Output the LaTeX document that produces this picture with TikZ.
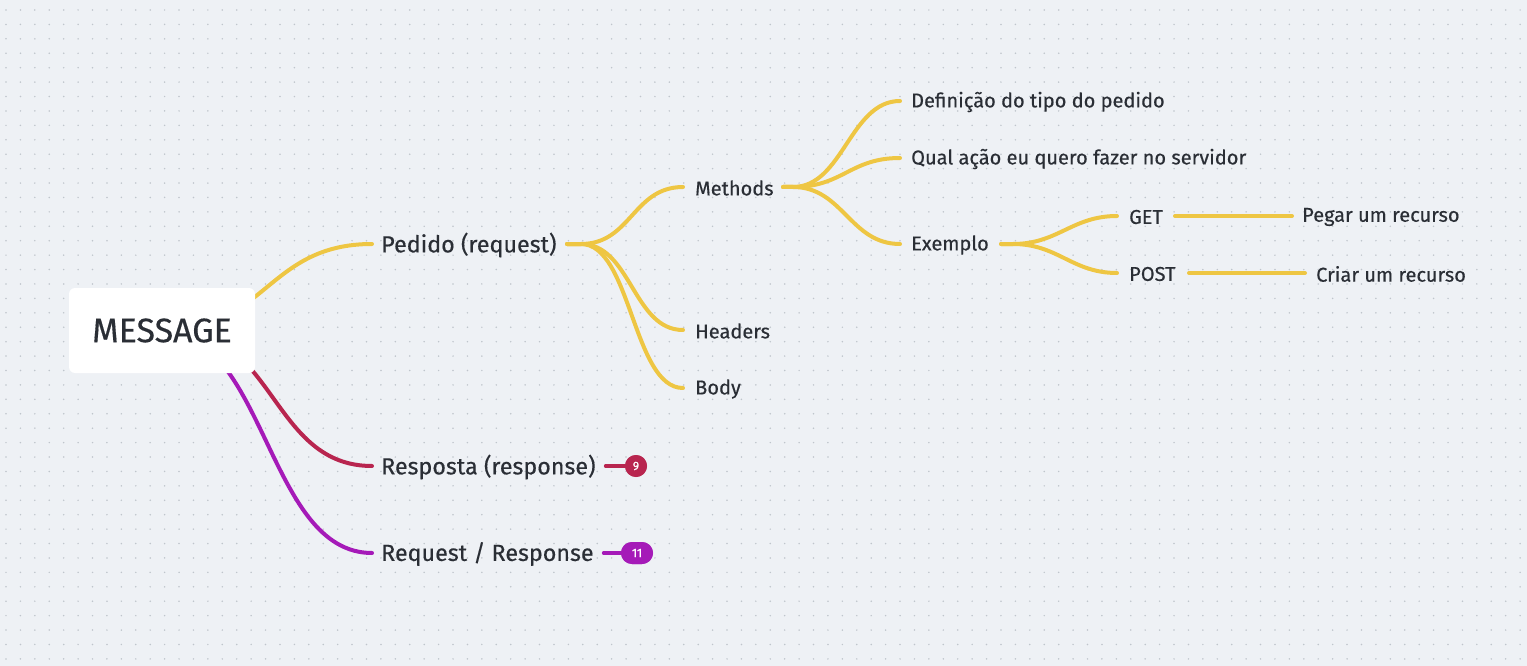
\documentclass[tikz,border=0pt]{standalone}
\usepackage{fontspec}
\setmainfont{Fira Sans}[BoldFont={Fira Sans},BoldFeatures={FakeBold=0.4}]
\usetikzlibrary{calc}
\definecolor{bg}{HTML}{EEF1F5}
\definecolor{dotc}{HTML}{BFC5CC}
\definecolor{ink}{HTML}{2A2E35}
\definecolor{yel}{HTML}{EEC643}
\definecolor{rd}{HTML}{B8254F}
\definecolor{pu}{HTML}{A51AB8}
\tikzset{
  lbl/.style={anchor=west,inner sep=0pt,text=ink,font=\fontsize{20}{22}\selectfont\bfseries},
  lbltop/.style={anchor=west,inner sep=0pt,text=ink,font=\fontsize{23.3}{26}\selectfont\bfseries},
  conn/.style={line width=4pt,line cap=round},
  badge/.style={text=white,font=\fontsize{12}{14}\selectfont\bfseries,inner sep=0pt,rounded corners=11pt,minimum height=22pt}
}
\begin{document}
\begin{tikzpicture}[x=1pt,y=-1pt]
\fill[bg] (0,0) rectangle (1527,666);
\useasboundingbox (0,0) rectangle (1527,666);
% dot grid
\foreach \i in {0,...,105} {
  \foreach \j in {0,...,45} {
    \fill[dotc] (6+\i*14.42,10+\j*14.42) circle (0.85);
  }
}
% nodes
\coordinate (mc) at (161,331);
\coordinate (mcr) at (175,331);
\node[lbltop] (ped) at (381,245) {Pedido (request)};
\node[lbltop] (resp) at (381,467) {Resposta (response)};
\node[lbltop] (rr) at (381,554) {Request / Response};
\node[lbl] (meth) at (695,188) {Methods};
\node[lbl] (head) at (695,331) {Headers};
\node[lbl] (body) at (695,389) {Body};
\node[lbl] (def) at (911,102) {Definição do tipo do pedido};
\node[lbl] (qual) at (911,159) {Qual ação eu quero fazer no servidor};
\node[lbl] (ex) at (911,245) {Exemplo};
\node[lbl] (get) at (1129,217) {GET};
\node[lbl] (post) at (1129,274) {POST};
\node[lbl] (peg) at (1302,217) {Pegar um recurso};
\node[lbl] (cri) at (1316,274) {Criar um recurso};
\node[badge,fill=rd,minimum width=22pt] (b9) at (636,466) {9};
\node[badge,fill=pu,minimum width=32pt] (b11) at (637,553) {11};
% connectors from MESSAGE
\draw[conn,yel] (mc) .. controls +(105,0) and +(-105,0) .. (372,244);
\draw[conn,rd] (mcr) .. controls +(100,0) and +(-100,0) .. (372,466);
\draw[conn,pu] (mc) .. controls +(105,0) and +(-105,0) .. (372,553);
% message box
\node[fill=white,rounded corners=6pt,minimum width=186pt,minimum height=85pt,inner sep=0pt,text=ink,font=\fontsize{34}{38}\selectfont\bfseries] (msg) at (162,330.5) {MESSAGE};
% badges connectors
\draw[conn,rd] ($(resp.east)+(10,-1)$) -- (b9.west);
\draw[conn,pu] ($(rr.east)+(10,-1)$) -- (b11.west);
\node[badge,fill=rd,minimum width=22pt] at (b9) {9};
\node[badge,fill=pu,minimum width=32pt] at (b11) {11};
% pedido children
\foreach \t in {meth,head,body} {
  \draw[conn,yel] (567,244) -- ++(14,0) .. controls +(50,0) and +(-50,0) .. ($(\t.west)+(-12,-1)$);
}
% methods children
\foreach \t in {def,qual,ex} {
  \draw[conn,yel] (783,187) -- ++(10,0) .. controls +(50,0) and +(-50,0) .. ($(\t.west)+(-11,-1)$);
}
% exemplo children
\foreach \t in {get,post} {
  \draw[conn,yel] (1001,244) -- ++(12,0) .. controls +(45,0) and +(-45,0) .. ($(\t.west)+(-12,-1)$);
}
\draw[conn,yel] (1175,216) -- (1292,216);
\draw[conn,yel] (1189,273) -- (1305,273);
\end{tikzpicture}
\end{document}
